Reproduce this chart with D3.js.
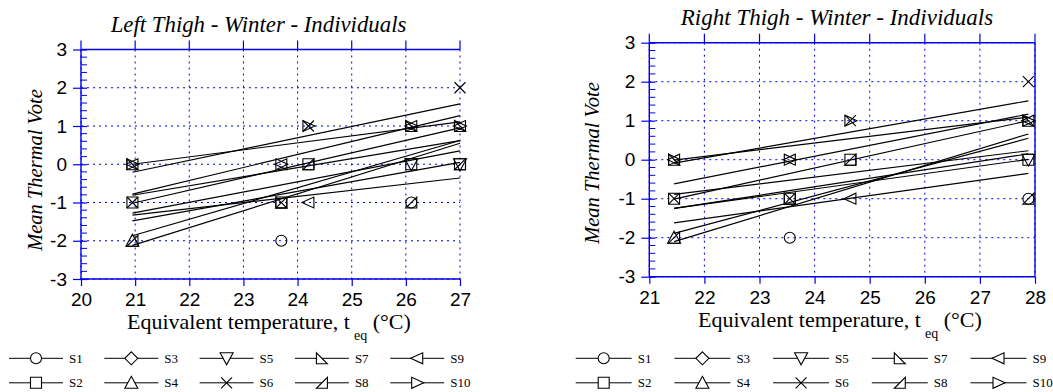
<!DOCTYPE html>
<html>
<head>
<meta charset="utf-8">
<script src="https://cdn.jsdelivr.net/npm/d3@7"></script>
<style>
  body { margin: 0; background: #fff; }
  svg { display: block; }
</style>
</head>
<body>
<svg id="chart" width="1053" height="392"></svg>
<script>
// ---- subjects and their marker symbols ----
const subjects = ["S1", "S2", "S3", "S4", "S5", "S6", "S7", "S8", "S9", "S10"];
const symbolKeys = ["circle", "square", "diamond", "triUp", "triDown", "cross", "rtLeft", "rtRight", "triLeft", "triRight"];

// ---- left thigh: votes per subject at each equivalent temperature (null = no vote) ----
const leftTemps = [20.95, 23.7, 24.2, 26.1, 27.0];
const leftVotes = [
  [null, -2, null, -1, null], // S1
  [-1, -1, 0, 0, 0],          // S2
  [null, null, null, null, null], // S3
  [-2, null, null, null, null],   // S4
  [null, null, null, 0, 0],   // S5
  [-1, null, 1, null, 2],     // S6
  [0, -1, null, 1, 1],        // S7
  [-2, -1, 0, -1, 0],         // S8
  [0, 0, -1, 1, 1],           // S9
  [0, 0, 1, 1, 1]             // S10
];
// regression lines: fitted vote at the first and last temperature
const leftFitRange = [20.95, 27.0];
const leftFitStart = [0.0, -0.21, -0.78, -0.81, -1.02, -1.33, -1.28, -1.48, -1.87, -2.12];
const leftFitEnd   = [1.11, 1.58, 1.27, 0.62, 0.95, -0.36, 0.35, 0.05, 0.62, 0.55];

// ---- right thigh ----
const rightTemps = [21.45, 23.55, 24.65, 27.88];
const rightVotes = [
  [null, -2, null, -1],  // S1
  [-1, -1, 0, 0],        // S2
  [null, null, null, null], // S3
  [-2, null, null, null], // S4
  [null, null, null, 0], // S5
  [-1, null, 1, 2],      // S6
  [0, -1, null, 1],      // S7
  [-2, -1, 0, -1],       // S8
  [0, 0, -1, 1],         // S9
  [0, 0, 1, 1]           // S10
];
const rightFitRange = [21.45, 27.88];
const rightFitStart = [-0.01, -0.09, -0.62, -0.89, -1.01, -1.25, -1.25, -1.62, -1.89, -2.10];
const rightFitEnd   = [1.09, 1.51, 1.17, 0.23, 1.0, 0.15, 0.01, -0.35, 0.55, 0.66];

const voteTicks = [-3, -2, -1, 0, 1, 2, 3];
const leftTempTicks = [20, 21, 22, 23, 24, 25, 26, 27];
const rightTempTicks = [21, 22, 23, 24, 25, 26, 27, 28];

const BLUE = "#0000ee";
const svg = d3.select("#chart");
const plainInt = d => String(d); // keeps the ASCII hyphen for negatives

// marker outlines, centred on 0,0
const s = 5.5;
const markerPath = {
  circle: null,
  square: `M${-s},${-s}H${s}V${s}H${-s}Z`,
  diamond: `M0,${-s - 1}L${s + 1},0L0,${s + 1}L${-s - 1},0Z`,
  triUp: `M0,${-s - 1}L${s + 1},${s}L${-s - 1},${s}Z`,
  triDown: `M${-s - 1},${-s}L${s + 1},${-s}L0,${s + 1}Z`,
  cross: `M${-s},${-s}L${s},${s}M${s},${-s}L${-s},${s}`,
  rtLeft: `M${-s},${-s}L${-s},${s}L${s},${s}Z`,
  rtRight: `M${s},${-s}L${s},${s}L${-s},${s}Z`,
  triLeft: `M${s},${-s}L${s},${s}L${-s - 1},0Z`,
  triRight: `M${-s},${-s}L${-s},${s}L${s + 1},0Z`
};

function drawMarker(g, key, x, y, fill) {
  const el = key === "circle"
    ? g.append("circle").attr("cx", x).attr("cy", y).attr("r", s)
    : g.append("path").attr("d", markerPath[key]).attr("transform", `translate(${x},${y})`);
  el.attr("fill", fill).attr("stroke", "#000").attr("stroke-width", 1.1);
}

function drawPanel(cfg) {
  const g = svg.append("g");
  const x = d3.scaleLinear().domain(cfg.xDomain).range([cfg.left, cfg.right]);
  const y = d3.scaleLinear().domain([-3, 3]).range([cfg.bottom, cfg.top]);

  // dotted grid
  g.append("g").selectAll("line").data(cfg.xTicks).join("line")
    .attr("x1", d => x(d)).attr("x2", d => x(d))
    .attr("y1", cfg.top).attr("y2", cfg.bottom)
    .attr("stroke", BLUE).attr("stroke-width", 1).attr("stroke-dasharray", "2,4");
  g.append("g").selectAll("line").data(voteTicks).join("line")
    .attr("x1", cfg.left).attr("x2", cfg.right)
    .attr("y1", d => y(d)).attr("y2", d => y(d))
    .attr("stroke", BLUE).attr("stroke-width", 1).attr("stroke-dasharray", "2,4");

  // frame
  const frame = [
    [cfg.left, cfg.top, cfg.left, cfg.bottom],
    [cfg.left, cfg.bottom, cfg.right, cfg.bottom],
    [cfg.left, cfg.top, cfg.right, cfg.top]
  ];
  if (cfg.closedRight) frame.push([cfg.right, cfg.top, cfg.right, cfg.bottom]);
  g.append("g").selectAll("line").data(frame).join("line")
    .attr("x1", d => d[0]).attr("y1", d => d[1]).attr("x2", d => d[2]).attr("y2", d => d[3])
    .attr("stroke", BLUE).attr("stroke-width", 1.4);

  // y axis with major and minor ticks
  const yAxis = d3.axisLeft(y).tickValues(voteTicks).tickSize(8).tickPadding(6)
    .tickFormat(plainInt);
  const ya = g.append("g").attr("transform", `translate(${cfg.left},0)`).call(yAxis);
  ya.select(".domain").remove();
  ya.selectAll(".tick line").attr("stroke", BLUE).attr("x2", -8).attr("x1", 6).attr("stroke-width", 1.2);
  ya.selectAll(".tick text").attr("font-family", "Liberation Sans, Arial, sans-serif")
    .attr("font-size", 19).attr("fill", "#000");
  const minor = d3.range(-3, 3.001, 0.2).filter(v => Math.abs(v - Math.round(v)) > 1e-6);
  g.append("g").selectAll("line").data(minor).join("line")
    .attr("x1", cfg.left).attr("x2", cfg.left + 6)
    .attr("y1", d => y(d)).attr("y2", d => y(d))
    .attr("stroke", BLUE).attr("stroke-width", 1);

  // x axis along the bottom, ticks mirrored above the top edge
  const xAxis = d3.axisBottom(x).tickValues(cfg.xTicks).tickSize(7).tickPadding(7)
    .tickFormat(plainInt);
  const xa = g.append("g").attr("transform", `translate(0,${cfg.bottom})`).call(xAxis);
  xa.select(".domain").remove();
  xa.selectAll(".tick line").attr("stroke", BLUE).attr("stroke-width", 1.2);
  xa.selectAll(".tick text").attr("font-family", "Liberation Sans, Arial, sans-serif")
    .attr("font-size", 19).attr("fill", "#000");
  g.append("g").selectAll("line").data(cfg.xTicks).join("line")
    .attr("x1", d => x(d)).attr("x2", d => x(d))
    .attr("y1", cfg.top - 9).attr("y2", cfg.top)
    .attr("stroke", BLUE).attr("stroke-width", 1.2);

  // regression lines
  g.append("g").selectAll("line").data(cfg.fitStart).join("line")
    .attr("x1", x(cfg.fitRange[0])).attr("x2", x(cfg.fitRange[1]))
    .attr("y1", d => y(d)).attr("y2", (d, i) => y(cfg.fitEnd[i]))
    .attr("stroke", "#000").attr("stroke-width", 1.2);

  // observed votes
  const mg = g.append("g");
  cfg.votes.forEach((row, si) => {
    row.forEach((v, ti) => {
      if (v !== null) drawMarker(mg, symbolKeys[si], x(cfg.temps[ti]), y(v), "none");
    });
  });

  // titles
  g.append("text").attr("x", cfg.titleX).attr("y", cfg.titleY).attr("text-anchor", "middle")
    .attr("font-family", "Liberation Serif, Times New Roman, serif").attr("font-style", "italic")
    .attr("font-size", cfg.titleSize).text(cfg.title);
  g.append("text")
    .attr("transform", `translate(${cfg.yLabelX},${cfg.yLabelY}) rotate(-90)`)
    .attr("text-anchor", "middle")
    .attr("font-family", "Liberation Serif, Times New Roman, serif").attr("font-style", "italic")
    .attr("font-size", 20.5).text("Mean Thermal Vote");
  const xt = g.append("text").attr("x", cfg.xLabelX).attr("y", cfg.xLabelY)
    .attr("font-family", "Liberation Serif, Times New Roman, serif").attr("font-size", 22);
  xt.append("tspan").text("Equivalent temperature, t");
  xt.append("tspan").attr("dx", 4).attr("dy", 11).attr("font-size", 14).text("eq");
  xt.append("tspan").attr("dy", -11).text(" (\u00B0C)");

  // legend
  const lg = g.append("g");
  subjects.forEach((name, i) => {
    const col = Math.floor(i / 2), row = i % 2;
    const lx = cfg.legendX + col * cfg.legendStep;
    const ly = cfg.legendY + row * 24.5;
    lg.append("line").attr("x1", lx).attr("x2", lx + cfg.legendLine)
      .attr("y1", ly).attr("y2", ly).attr("stroke", "#000").attr("stroke-width", 1);
    drawMarker(lg, symbolKeys[i], lx + cfg.legendLine / 2, ly, "#fff");
    lg.append("text").attr("x", lx + cfg.legendLine + 6).attr("y", ly + 4.5)
      .attr("font-family", "Liberation Serif, Times New Roman, serif").attr("font-size", 13)
      .text(name);
  });
}

drawPanel({
  title: "Left Thigh - Winter - Individuals", titleSize: 22.8,
  xDomain: [20, 27], xTicks: leftTempTicks,
  left: 81, right: 460, top: 49.5, bottom: 279, closedRight: false,
  temps: leftTemps, votes: leftVotes,
  fitRange: leftFitRange, fitStart: leftFitStart, fitEnd: leftFitEnd,
  titleX: 258.5, titleY: 32,
  yLabelX: 42, yLabelY: 170,
  xLabelX: 127, xLabelY: 329,
  legendX: 9, legendStep: 95.3, legendLine: 54, legendY: 358.3
});

drawPanel({
  title: "Right Thigh - Winter - Individuals", titleSize: 23,
  xDomain: [21, 28], xTicks: rightTempTicks,
  left: 649.3, right: 1035, top: 42.7, bottom: 276.7, closedRight: true,
  temps: rightTemps, votes: rightVotes,
  fitRange: rightFitRange, fitStart: rightFitStart, fitEnd: rightFitEnd,
  titleX: 837, titleY: 25,
  yLabelX: 599, yLabelY: 163,
  xLabelX: 698, xLabelY: 327,
  legendX: 575.7, legendStep: 98.7, legendLine: 56, legendY: 358.3
});
</script>
</body>
</html>
